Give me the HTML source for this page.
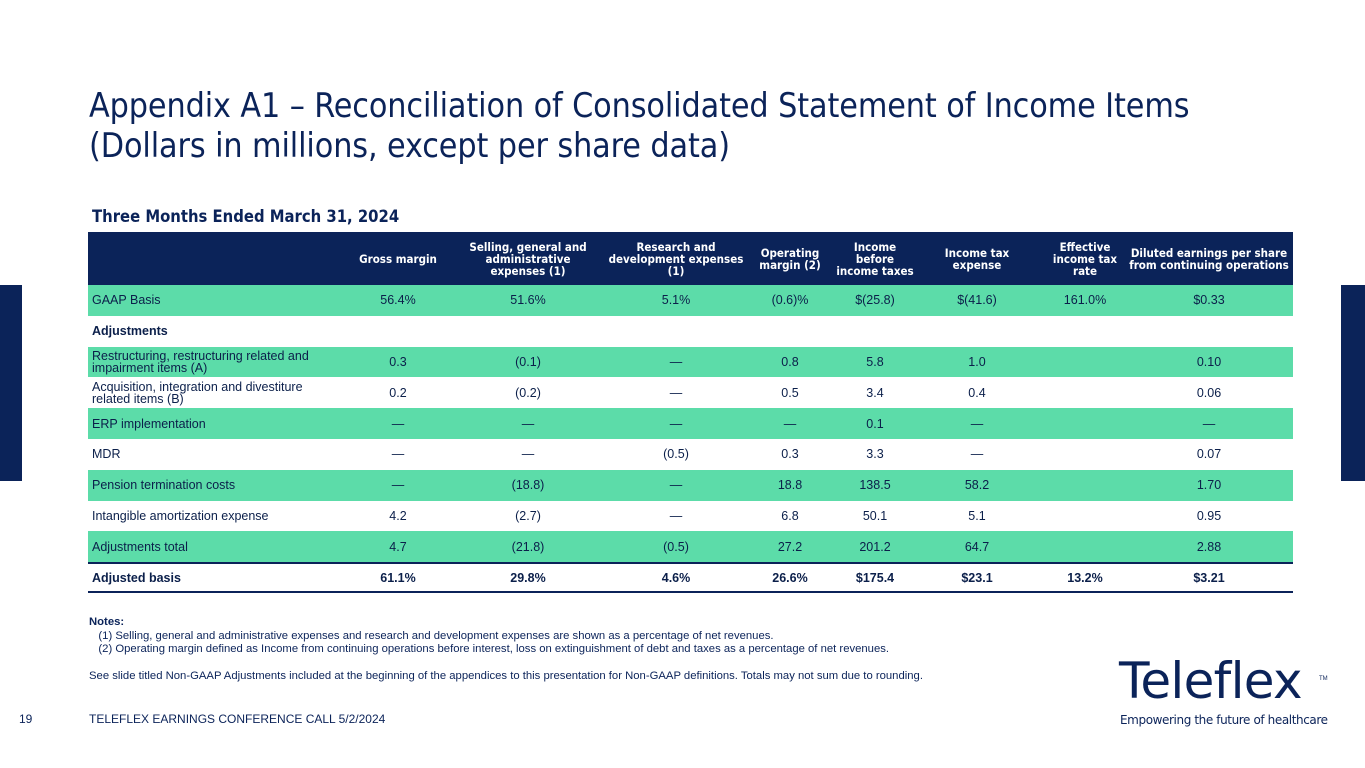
<!DOCTYPE html>
<html><head><meta charset="utf-8"><style>
body{margin:0;width:1365px;height:768px;position:relative;background:#fff;font-family:"Liberation Sans",sans-serif;color:#0b1f4a;overflow:hidden}
.abs{position:absolute}
h1{position:absolute;left:89px;top:86px;margin:0;font-weight:normal;font-size:33.7px;line-height:40px;color:#0b2359;font-family:"DejaVu Sans Condensed","Liberation Sans",sans-serif;letter-spacing:-0.1px}
.row{position:absolute;left:88px;width:1205px;height:31px}
.cell{position:absolute;top:0;height:100%;display:flex;align-items:center;justify-content:center;text-align:center;font-size:12.5px;transform:translateX(-50%);white-space:nowrap}
.lab{position:absolute;left:4px;top:0;height:100%;display:flex;align-items:center;font-size:12.5px;line-height:12px}
.green{background:#5cdca9}
.hdr .cell{color:#fff;font-weight:bold;font-size:11.5px;line-height:12px;font-family:"DejaVu Sans Condensed","Liberation Sans",sans-serif}
.b .cell,.b .lab{font-weight:bold}
</style></head><body>
<div class="abs" style="left:0;top:285px;width:22px;height:196px;background:#0b2359"></div>
<div class="abs" style="left:1341px;top:285px;width:24px;height:196px;background:#0b2359"></div>
<h1>Appendix A1 – Reconciliation of Consolidated Statement of Income Items<br>(Dollars in millions, except per share data)</h1>
<div class="abs" style="left:92px;top:207px;font-size:16.5px;font-weight:bold;color:#0b2359;font-family:'DejaVu Sans Condensed','Liberation Sans',sans-serif">Three Months Ended March 31, 2024</div>
<div id="tbl"></div>
<div class="abs" style="left:89px;top:616px;font-size:11.3px;line-height:13.5px;color:#0b2359">
<b>Notes:</b><br>&nbsp;&nbsp;&nbsp;(1) Selling, general and administrative expenses and research and development expenses are shown as a percentage of net revenues.<br>&nbsp;&nbsp;&nbsp;(2) Operating margin defined as Income from continuing operations before interest, loss on extinguishment of debt and taxes as a percentage of net revenues.<br><br>See slide titled Non-GAAP Adjustments included at the beginning of the appendices to this presentation for Non-GAAP definitions. Totals may not sum due to rounding.</div>
<div class="abs" style="left:19px;top:712px;font-size:12px;color:#0b2359">19</div>
<div class="abs" style="left:89px;top:712px;font-size:12px;color:#0b2359">TELEFLEX EARNINGS CONFERENCE CALL 5/2/2024</div>
<div class="abs" style="left:1119px;top:655px;font-size:50px;line-height:52px;font-weight:normal;color:#0b2359;letter-spacing:-0.7px;font-family:'DejaVu Sans','Liberation Sans',sans-serif">Teleflex</div>
<div class="abs" style="left:1319px;top:676px;font-size:6px;color:#0b2359">TM</div>
<div class="abs" style="left:1120px;top:713px;font-size:12px;color:#0b2359;font-family:'DejaVu Sans','Liberation Sans',sans-serif;letter-spacing:-0.4px">Empowering the future of healthcare</div>
<script>
const centers=[310,440,588,702,787,889,997,1121];
const headers=["Gross margin","Selling, general and<br>administrative<br>expenses (1)","Research and<br>development expenses<br>(1)","Operating<br>margin (2)","Income<br>before<br>income taxes","Income tax<br>expense","Effective<br>income tax<br>rate","Diluted earnings per share<br>from continuing operations"];
const rows=[
["GAAP Basis",["56.4%","51.6%","5.1%","(0.6)%","$(25.8)","$(41.6)","161.0%","$0.33"],"green",""],
["Adjustments",null,"","b"],
["Restructuring, restructuring related and<br>impairment items (A)",["0.3","(0.1)","—","0.8","5.8","1.0","","0.10"],"green",""],
["Acquisition, integration and divestiture<br>related items (B)",["0.2","(0.2)","—","0.5","3.4","0.4","","0.06"],"",""],
["ERP implementation",["—","—","—","—","0.1","—","","—"],"green",""],
["MDR",["—","—","(0.5)","0.3","3.3","—","","0.07"],"",""],
["Pension termination costs",["—","(18.8)","—","18.8","138.5","58.2","","1.70"],"green",""],
["Intangible amortization expense",["4.2","(2.7)","—","6.8","50.1","5.1","","0.95"],"",""],
["Adjustments total",["4.7","(21.8)","(0.5)","27.2","201.2","64.7","","2.88"],"green",""],
["Adjusted basis",["61.1%","29.8%","4.6%","26.6%","$175.4","$23.1","13.2%","$3.21"],"","b"]
];
const T=document.getElementById('tbl');
let h=document.createElement('div');h.className='row hdr';h.style.top='232px';h.style.height='53px';h.style.background='#0b2359';


headers.forEach((t,i)=>{const c=document.createElement('div');c.className='cell';c.style.left=centers[i]+'px';c.innerHTML=t;


h.appendChild(c);});
T.appendChild(h);
rows.forEach((r,k)=>{const d=document.createElement('div');d.className='row '+r[2]+' '+r[3];d.style.top=(285+k*30.8)+'px';d.style.height='30.8px';


if(k==9){d.style.borderTop='2px solid #0b2359';d.style.borderBottom='2px solid #0b2359';d.style.boxSizing='border-box';}
const l=document.createElement('div');l.className='lab';l.innerHTML=r[0];


d.appendChild(l);
if(r[1])r[1].forEach((v,i)=>{const c=document.createElement('div');c.className='cell';c.style.left=centers[i]+'px';c.textContent=v;


d.appendChild(c);});
T.appendChild(d);});
</script>
</body></html>
